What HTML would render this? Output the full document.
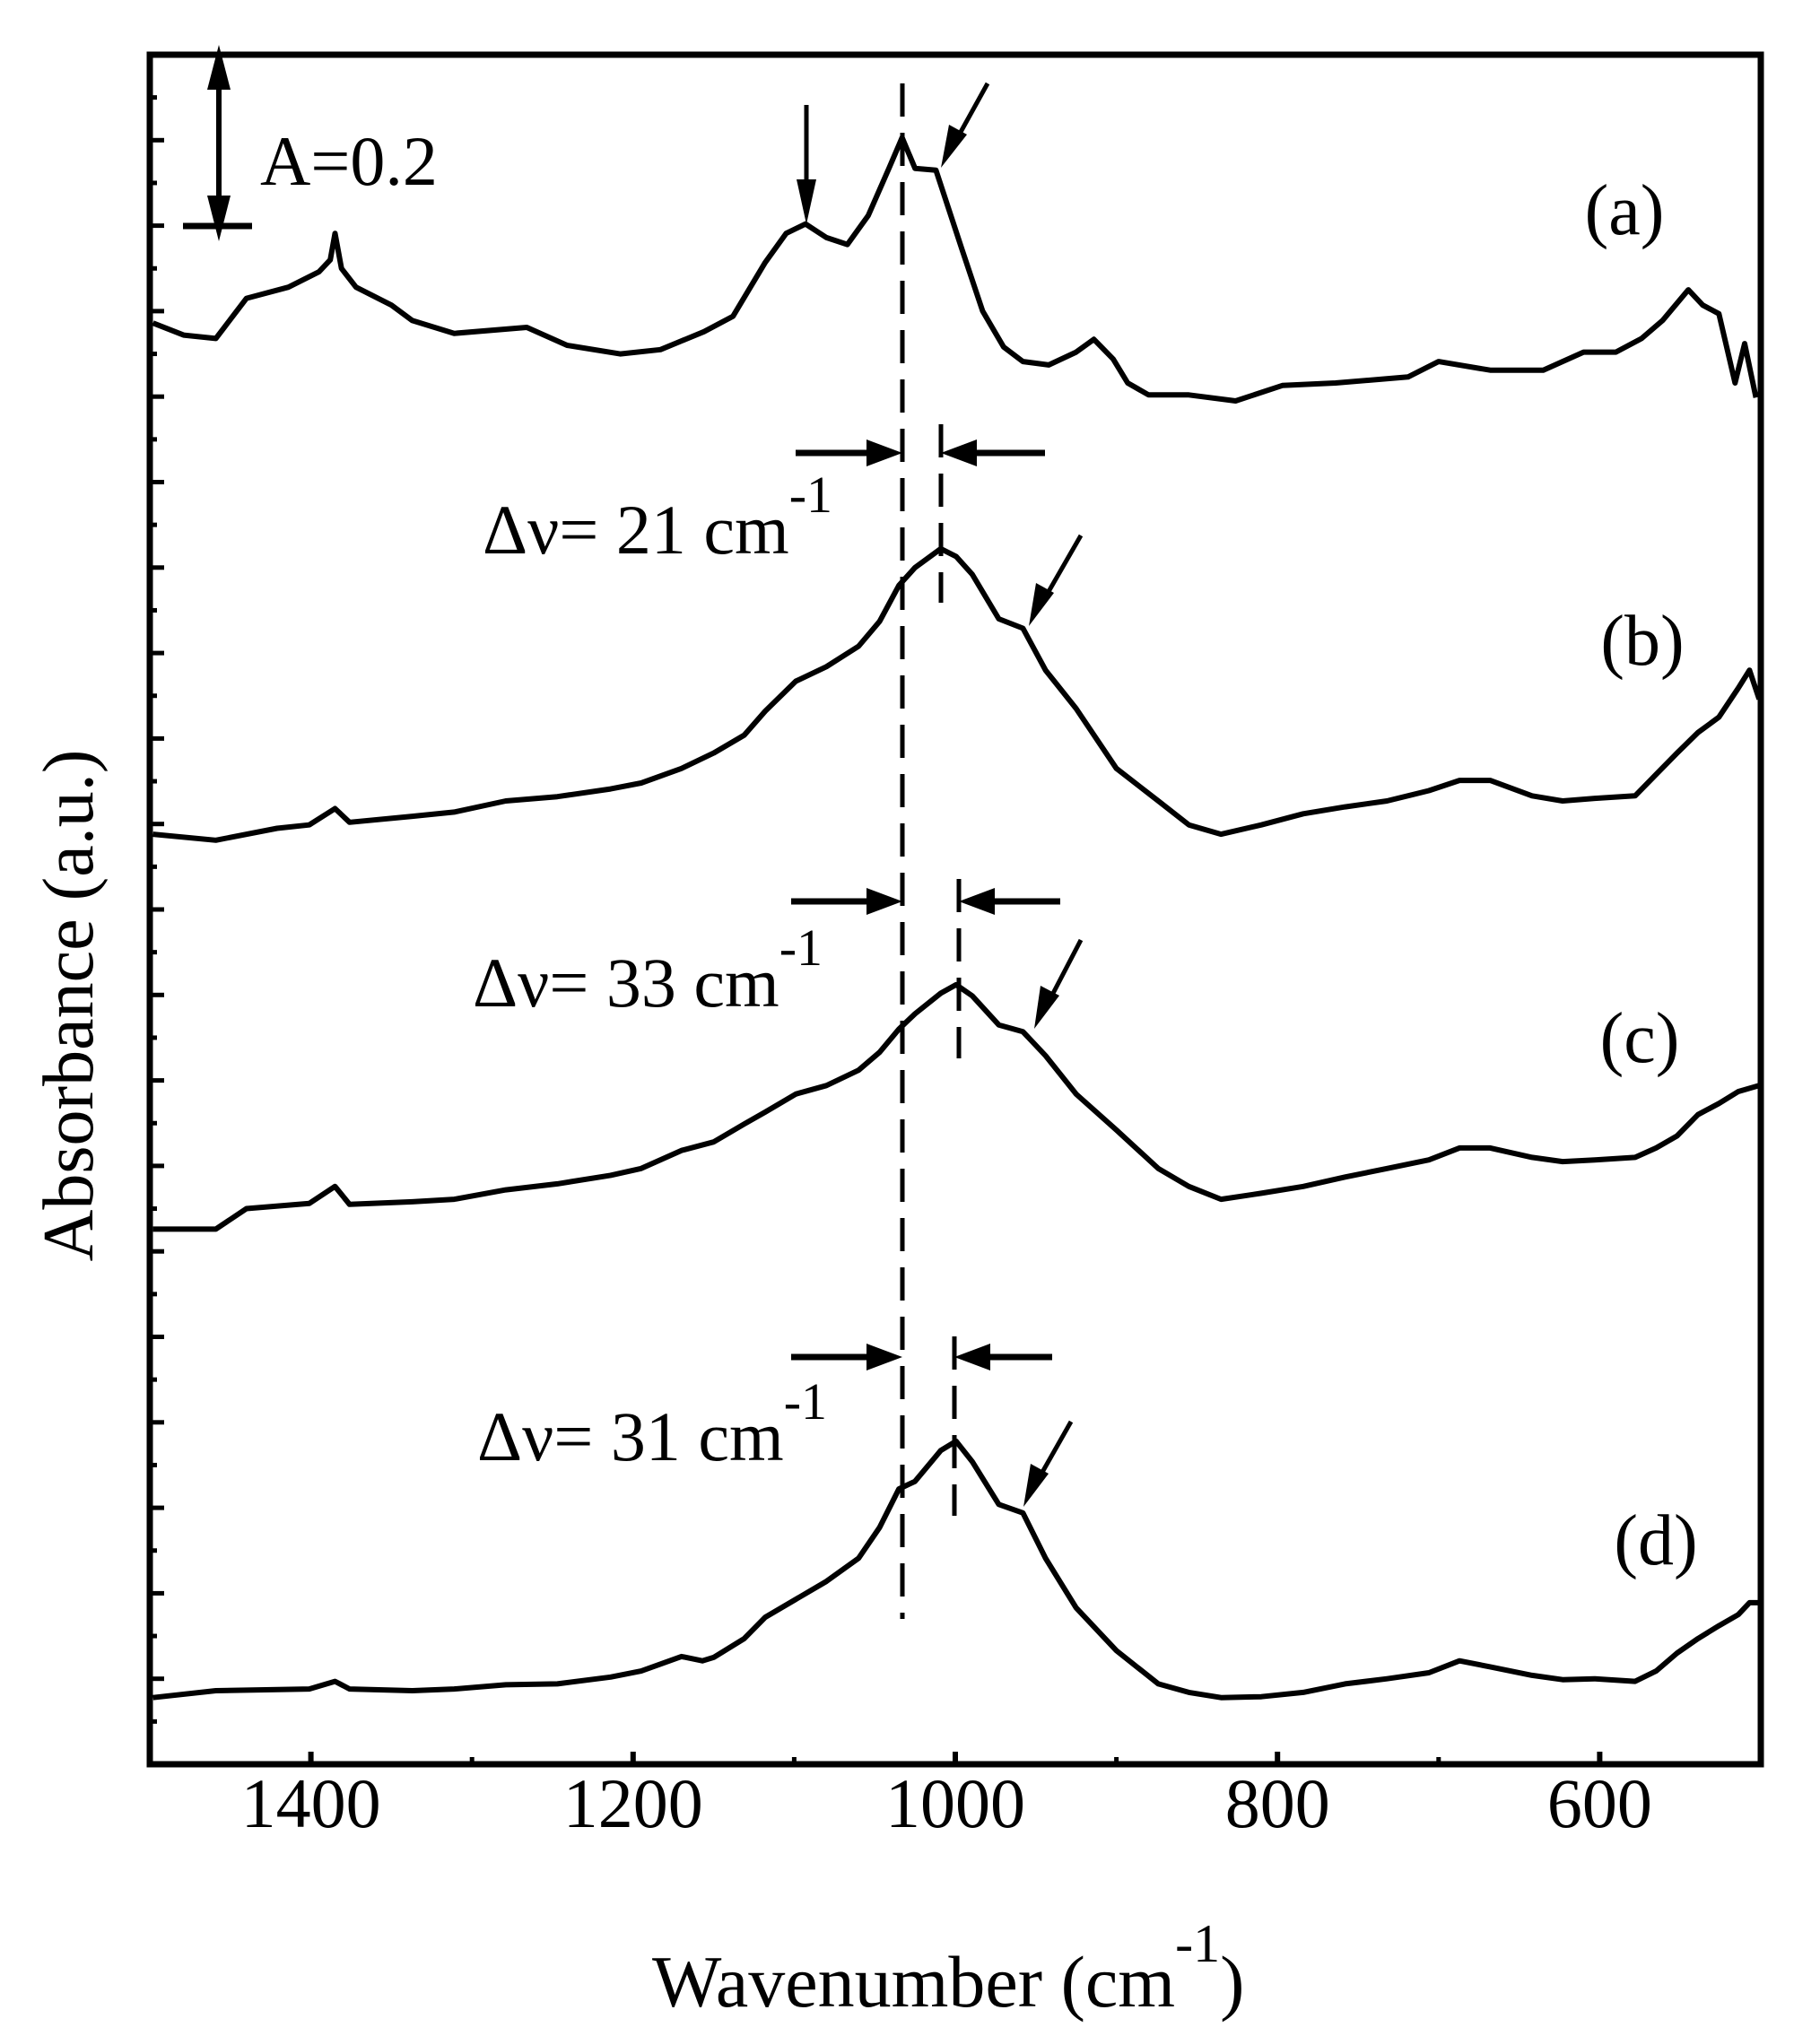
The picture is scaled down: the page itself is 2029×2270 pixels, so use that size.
<!DOCTYPE html>
<html><head><meta charset="utf-8"><style>
html,body{margin:0;padding:0;background:#fff;}
svg{display:block;}
text{font-family:"Liberation Serif",serif;fill:#000;}
</style></head><body>
<svg id="chart" width="2029" height="2270" viewBox="0 0 2029 2270" xmlns="http://www.w3.org/2000/svg">
<g id="marks"></g>
<g id="axes"></g>
<g id="annot"></g>
</svg>
<script>
const xTickValues = [1400, 1200, 1000, 800, 600];
const xMinorTicks = [1300, 1100, 900, 700];
const wA = [1498,1479,1459,1440,1414,1395,1388,1385,1381,1372,1350,1337,1311,1266,1241,1208,1183,1156,1138,1118,1105,1093,1080,1067,1054,1041,1033,1025,1012,996,983,970,958,942,925,914,902,893,880,855,826,797,764,719,700,668,635,610,590,574,561,545,536,526,516,510,503];
const absA = [1.686,1.672,1.668,1.715,1.728,1.746,1.760,1.791,1.750,1.728,1.707,1.689,1.674,1.681,1.660,1.650,1.655,1.676,1.694,1.757,1.791,1.802,1.786,1.778,1.812,1.868,1.903,1.867,1.865,1.773,1.700,1.658,1.641,1.637,1.652,1.667,1.644,1.616,1.602,1.602,1.595,1.613,1.616,1.623,1.641,1.631,1.631,1.652,1.652,1.668,1.689,1.725,1.707,1.697,1.616,1.662,1.599];
const wB = [1498,1459,1421,1401,1385,1376,1337,1311,1279,1247,1214,1195,1170,1150,1131,1118,1099,1080,1060,1047,1035,1025,1009,999.5,989.5,973,958,944,925,900,874,855,835,810,784,758,732,706,687,668,642,623,603,578,565,552,539,526,514,507,501];
const absB = [1.088,1.081,1.095,1.099,1.118,1.102,1.109,1.114,1.127,1.132,1.141,1.148,1.165,1.183,1.204,1.232,1.267,1.284,1.308,1.337,1.379,1.400,1.422,1.413,1.392,1.340,1.329,1.280,1.235,1.165,1.127,1.099,1.088,1.099,1.112,1.120,1.127,1.139,1.151,1.151,1.133,1.127,1.130,1.133,1.158,1.183,1.207,1.225,1.259,1.280,1.246];
const wC = [1498,1459,1440,1401,1385,1376,1337,1311,1279,1247,1214,1195,1170,1150,1131,1118,1099,1080,1060,1047,1035,1025,1009,999.5,989.5,973,958,944,925,900,874,855,835,810,784,758,732,706,687,668,642,623,603,578,565,552,539,526,514,501];
const absC = [0.626,0.626,0.650,0.656,0.676,0.655,0.658,0.661,0.672,0.679,0.689,0.697,0.718,0.728,0.749,0.763,0.784,0.794,0.812,0.833,0.860,0.878,0.902,0.912,0.899,0.865,0.857,0.829,0.784,0.742,0.697,0.676,0.661,0.668,0.676,0.687,0.697,0.707,0.721,0.721,0.710,0.705,0.707,0.710,0.721,0.735,0.760,0.773,0.787,0.794];
const wD = [1498,1459,1401,1385,1376,1337,1311,1279,1247,1214,1195,1170,1157,1150,1131,1118,1099,1080,1060,1047,1035,1025,1009,999.5,989.5,973,958,944,925,900,874,855,835,810,784,758,732,706,687,668,642,623,603,578,565,552,539,526,514,507,501];
const absD = [0.078,0.086,0.088,0.097,0.088,0.086,0.088,0.093,0.094,0.102,0.109,0.126,0.121,0.125,0.147,0.172,0.193,0.214,0.241,0.277,0.322,0.331,0.367,0.378,0.354,0.304,0.294,0.241,0.183,0.133,0.094,0.084,0.078,0.079,0.084,0.094,0.100,0.107,0.121,0.114,0.104,0.099,0.100,0.097,0.109,0.130,0.147,0.162,0.175,0.189,0.189];

const NS = "http://www.w3.org/2000/svg";
const L = 167, R = 1963, T = 61, B = 1967;
const xMin = 1500, xMax = 500, yMin = 0, yMax = 2.0;
function xs(w){ return L + (xMin - w) / (xMin - xMax) * (R - L); }
function ys(a){ return B - (a - yMin) / (yMax - yMin) * (B - T); }
function mk(tag, attrs, parent){ const e = document.createElementNS(NS, tag); for (const k in attrs) e.setAttribute(k, attrs[k]); parent.appendChild(e); return e; }
const marks = document.getElementById('marks');
const axes = document.getElementById('axes');

const series = [['a', wA, absA], ['b', wB, absB], ['c', wC, absC], ['d', wD, absD]];
series.forEach(s => {
  const d = s[1].map((w, i) => (i ? 'L' : 'M') + xs(w).toFixed(1) + ' ' + ys(s[2][i]).toFixed(1)).join(' ');
  const p = mk('path', {d: d, fill: 'none', stroke: '#000', 'stroke-width': 6, 'stroke-linejoin': 'round'}, marks);
  
  
});

const frame = mk('rect', {x: L, y: T, width: R - L, height: B - T, fill: 'none', stroke: '#000', 'stroke-width': 7}, axes);


xTickValues.forEach(v => {
  const t = mk('line', {x1: xs(v), x2: xs(v), y1: B, y2: B - 14, stroke: '#000', 'stroke-width': 6}, axes);
  
  
  const lb = mk('text', {x: xs(v), y: 2037, 'font-size': 78, 'text-anchor': 'middle'}, axes);
  lb.textContent = v;
  
  
});
xMinorTicks.forEach(v => {
  const t = mk('line', {x1: xs(v), x2: xs(v), y1: B, y2: B - 8, stroke: '#000', 'stroke-width': 5}, axes);
  
  
});
for (let i = 1; i < 40; i++) {
  const y = T + i * (B - T) / 40;
  const major = i % 2 === 0;
  const t = mk('line', {x1: L, x2: L + (major ? 16 : 8), y1: y, y2: y, stroke: '#000', 'stroke-width': 5}, axes);
  
  
}
</script>
<svg style="position:absolute;left:0;top:0" width="2029" height="2270" viewBox="0 0 2029 2270">
<text transform="translate(103,1121) rotate(-90)" font-size="80" text-anchor="middle" style="font-family:'Liberation Serif',serif">Absorbance (a.u.)</text>
<text x="727" y="2237" font-size="82" style="font-family:'Liberation Serif',serif">Wavenumber (cm<tspan dy="-50" font-size="60">-1</tspan><tspan dy="50">)</tspan></text>
<text x="290" y="206" font-size="78" style="font-family:'Liberation Serif',serif">A=0.2</text>
<text x="1811" y="261" font-size="80" text-anchor="middle" style="font-family:'Liberation Serif',serif">(a)</text>
<text x="1831" y="741" font-size="80" text-anchor="middle" style="font-family:'Liberation Serif',serif">(b)</text>
<text x="1828" y="1184" font-size="80" text-anchor="middle" style="font-family:'Liberation Serif',serif">(c)</text>
<text x="1846" y="1744" font-size="80" text-anchor="middle" style="font-family:'Liberation Serif',serif">(d)</text>
<text x="538" y="617" font-size="78" style="font-family:'Liberation Serif',serif">Δν= 21 cm<tspan dy="-46" font-size="58">-1</tspan></text>
<text x="527" y="1122" font-size="78" style="font-family:'Liberation Serif',serif">Δν= 33 cm<tspan dy="-46" font-size="58">-1</tspan></text>
<text x="532" y="1628" font-size="78" style="font-family:'Liberation Serif',serif">Δν= 31 cm<tspan dy="-46" font-size="58">-1</tspan></text>
<g><line x1="1006" y1="93" x2="1006" y2="1805" stroke="#000" stroke-width="5" stroke-dasharray="37 18"/></g>
<g><line x1="1049" y1="473" x2="1049" y2="672" stroke="#000" stroke-width="5" stroke-dasharray="37 18"/></g>
<g><line x1="1069" y1="980" x2="1069" y2="1180" stroke="#000" stroke-width="5" stroke-dasharray="37 18"/></g>
<g><line x1="1064" y1="1490" x2="1064" y2="1690" stroke="#000" stroke-width="5" stroke-dasharray="37 18"/></g>
<g>
<line x1="887" y1="505" x2="970" y2="505" stroke="#000" stroke-width="7"/><polygon points="1006,505 966,490 966,520"/>
<line x1="1165" y1="505" x2="1085" y2="505" stroke="#000" stroke-width="7"/><polygon points="1049,505 1089,490 1089,520"/></g>
<g>
<line x1="882" y1="1005" x2="970" y2="1005" stroke="#000" stroke-width="7"/><polygon points="1006,1005 966,990 966,1020"/>
<line x1="1182" y1="1005" x2="1105" y2="1005" stroke="#000" stroke-width="7"/><polygon points="1069,1005 1109,990 1109,1020"/></g>
<g>
<line x1="882" y1="1513" x2="970" y2="1513" stroke="#000" stroke-width="7"/><polygon points="1006,1513 966,1498 966,1528"/>
<line x1="1173" y1="1513" x2="1100" y2="1513" stroke="#000" stroke-width="7"/><polygon points="1064,1513 1104,1498 1104,1528"/></g>
<g>
<line x1="244" y1="95" x2="244" y2="225" stroke="#000" stroke-width="6"/>
<polygon points="244,50 231,100 257,100"/><polygon points="244,269 231,218 257,218"/>
<line x1="204" y1="252" x2="281" y2="252" stroke="#000" stroke-width="7"/></g>
<g><line x1="899" y1="117" x2="899" y2="210" stroke="#000" stroke-width="5"/><polygon points="899,250 888,200 910,200"/></g>
<g stroke="#000" stroke-width="5">
<line x1="1101" y1="93" x2="1065" y2="158"/><polygon points="1049,187 1058,139 1078,150" stroke="none"/>
<line x1="1205" y1="597" x2="1163" y2="670"/><polygon points="1147,698 1155,650 1175,661" stroke="none"/>
<line x1="1205" y1="1048" x2="1168" y2="1119"/><polygon points="1153,1147 1160,1099 1181,1110" stroke="none"/>
<line x1="1194" y1="1585" x2="1156" y2="1652"/><polygon points="1141,1680 1149,1632 1169,1643" stroke="none"/></g>
</svg>
</body></html>
